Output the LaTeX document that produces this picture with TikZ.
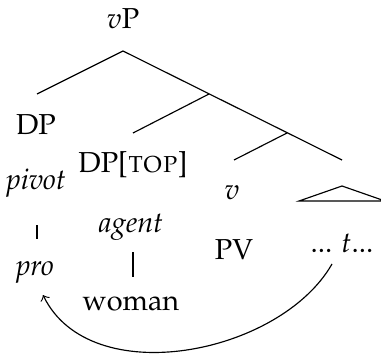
\documentclass[tikz,border=0pt]{standalone}
\usepackage[T1]{fontenc}
\usepackage{mathpazo}
\usepackage{tikz}

\tikzset{lab/.style={anchor=base, inner sep=0pt}}

\begin{document}
\begin{tikzpicture}[x=0.3465pt, y=-0.3465pt]
    \useasboundingbox (0,0) rectangle (381,356);

    % labels
    \node[lab] (vP) at (123,29) {$v$P};
    \node[lab] (dp) at (36,135) {DP};
    \node[lab] (dptop) at (133,173) {DP[\textsc{top}]};
    \node[lab] (pivot) at (36,190) {\textit{pivot}};
    \node[lab] (pro) at (35,275) {\textit{pro}};
    \node[lab] (agent) at (131,232) {\textit{agent}};
    \node[lab] (woman) at (131,310) {woman};
    \node[lab] (v) at (232,200) {$v$};
    \node[lab] (pv) at (234,259) {PV};
    \node[lab] (tt) at (342,252) {... $t$...};

    % tree
    \coordinate (top) at (123,51);
    \coordinate (b1) at (209,94);
    \coordinate (b2) at (287,133);
    \coordinate (end) at (342,160);
    \draw (top) -- (37,94);
    \draw (top) -- (end);
    \draw (b1) -- (133,133);
    \draw (b2) -- (234,160);
    \draw (342,186) -- (299,201) -- (385,201) -- cycle;

    \draw (37,225) -- (37,239);
    \draw (133,252) -- (133,277);

    % movement
    \coordinate (trace) at (332,264);
    \coordinate (landing) at (43,295);
    \draw[->] (trace) .. controls (280,355) and (90,392) .. (landing);
\end{tikzpicture}
\end{document}
